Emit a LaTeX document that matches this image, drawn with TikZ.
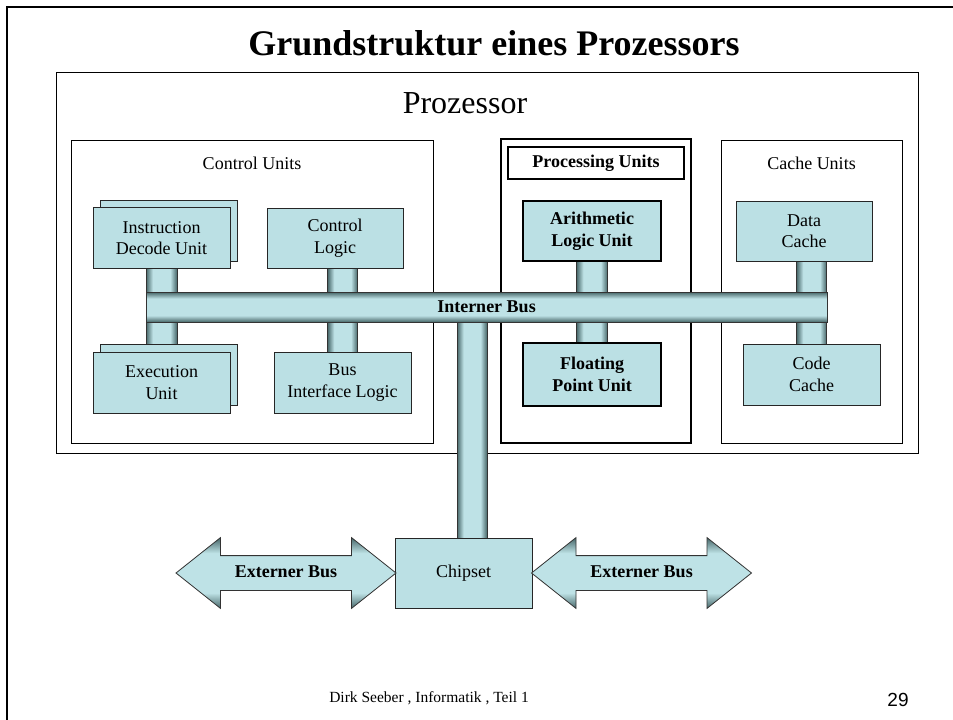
\documentclass[tikz,border=0pt]{standalone}
\usepackage{fontspec}
\setmainfont{Liberation Serif}
\newfontfamily\pagenofont{Liberation Sans}
\usepackage{xcolor}
\usetikzlibrary{positioning,calc,shapes.arrows}

\definecolor{boxfill}{RGB}{187,224,228}
\definecolor{pipedark}{RGB}{70,102,104}
\definecolor{pipelight}{RGB}{190,226,230}

\pgfdeclarehorizontalshading{pipeacross}{100bp}{color(0bp)=(pipedark); color(25bp)=(pipedark); color(36bp)=(pipelight); color(64bp)=(pipelight); color(75bp)=(pipedark); color(100bp)=(pipedark)}
\pgfdeclareverticalshading{pipealong}{100bp}{color(0bp)=(pipedark); color(25bp)=(pipedark); color(36bp)=(pipelight); color(64bp)=(pipelight); color(75bp)=(pipedark); color(100bp)=(pipedark)}

\pgfdeclarelayer{back}
\pgfdeclarelayer{mid}
\pgfsetlayers{back,mid,main}

\newcommand\unitfont{\fontsize{18}{21.5}\selectfont}

\begin{document}
\begin{tikzpicture}[x=1pt,y=-1pt,
  frame/.style={draw=black,line width=1pt,inner sep=0pt,outer sep=0pt},
  boldframe/.style={frame,line width=2.6pt},
  unit/.style={draw=black!85,line width=1pt,fill=boxfill,inner sep=0pt,outer sep=0pt,
    align=center,font=\unitfont,minimum width=137pt,minimum height=61pt},
  keyunit/.style={unit,draw=black,line width=2.6pt,font=\unitfont\bfseries},
  vpipe/.style={shading=pipeacross,draw=black!80,line width=0.8pt},
  bus/.style={shade,shading=pipealong,draw=black!80,line width=0.8pt,inner sep=0pt,
    outer sep=0pt,font=\unitfont\bfseries},
  extbus/.style={bus,double arrow,double arrow tip angle=77,double arrow head extend=18pt,
    minimum height=220pt,text height=12pt,text depth=4pt,inner ysep=9pt}]
\useasboundingbox (0,0) rectangle (953,720);

% Slide frame and title
\draw[line width=2.6pt] (7,720) -- (7,7) -- (953,7);
\node[font=\fontsize{36}{40}\selectfont\bfseries] (title) at (494,43) {Grundstruktur eines Prozessors};

% Processor and its unit groups
\begin{pgfonlayer}{back}
\node[frame,minimum width=862pt,minimum height=381pt] (proz) at (487,262.5) {};
\node[frame,minimum width=362pt,minimum height=303pt] (ctrl) at (252,291.5) {};
\node[boldframe,minimum width=190pt,minimum height=304pt] (proc) at (596,291) {};
\node[frame,minimum width=181pt,minimum height=303pt] (cache) at (811.5,291.5) {};
\end{pgfonlayer}

% Group labels
\node[font=\fontsize{32}{36}\selectfont] (prozlabel) at (465,103) {Prozessor};
\node[font=\unitfont] (ctrllabel) at (252,163) {Control Units};
\node[boldframe,minimum width=176pt,minimum height=32pt,font=\unitfont\bfseries] (proclabel) at (596,163) {Processing Units};
\node[font=\unitfont] (cachelabel) at (811.5,163) {Cache Units};

% Internal bus
\node[bus,minimum width=681pt,minimum height=30pt] (bus) at (486.5,307) {Interner Bus};

% Control units (with stacked copies)
\node[unit] (iduback) at (168.5,231) {};
\node[unit] (idu) at (161.5,238) {Instruction\\Decode Unit};
\node[unit,minimum width=136pt,minimum height=60pt] (cl) at (335,238) {Control\\Logic};
\node[unit] (euback) at (168.5,375) {};
\node[unit] (eu) at (161.5,382.5) {Execution\\Unit};
\node[unit] (bil) at (342.5,382.5) {Bus\\Interface Logic};

% Processing units
\node[keyunit,minimum width=138pt,minimum height=60pt] (alu) at (592,231) {Arithmetic\\Logic Unit};
\node[keyunit,minimum width=138pt,minimum height=63pt] (fpu) at (592,374.5) {Floating\\Point Unit};

% Cache units
\node[unit,minimum width=136pt,minimum height=60pt] (dc) at (804,231) {Data\\Cache};
\node[unit] (cc) at (811.5,374.5) {Code\\Cache};

% Chipset and external bus
\node[unit,minimum height=70pt] (chip) at (463.5,573) {Chipset};
\node[extbus] (extl) at (286,573) {Externer Bus};
\node[extbus] (extr) at (641.5,573) {Externer Bus};
\coordinate (tap) at (472,0);

% Pipes to the bus
\begin{pgfonlayer}{mid}
\shade[vpipe] ($(idu.center)+(-15.5,0)$) rectangle ($(eu.center)+(15.5,0)$);
\shade[vpipe] ($(cl.center -| bil.center)+(-15,0)$) rectangle ($(bil.center)+(15,0)$);
\shade[vpipe] ($(alu.center)+(-15.5,0)$) rectangle ($(fpu.center)+(15.5,0)$);
\shade[vpipe] ($(dc.center -| cc.center)+(-15,0)$) rectangle ($(cc.center)+(15,0)$);
\shade[vpipe] ($(bus.center -| tap)+(-15,0)$) rectangle ($(chip.center -| tap)+(15,0)$);
\end{pgfonlayer}

% Footer
\node[font=\fontsize{15.5}{18}\selectfont] (footer) at (429,698) {Dirk Seeber , Informatik , Teil 1};
\node[font=\pagenofont\fontsize{19}{22}\selectfont] (pageno) at (898,700) {29};
\end{tikzpicture}
\end{document}
